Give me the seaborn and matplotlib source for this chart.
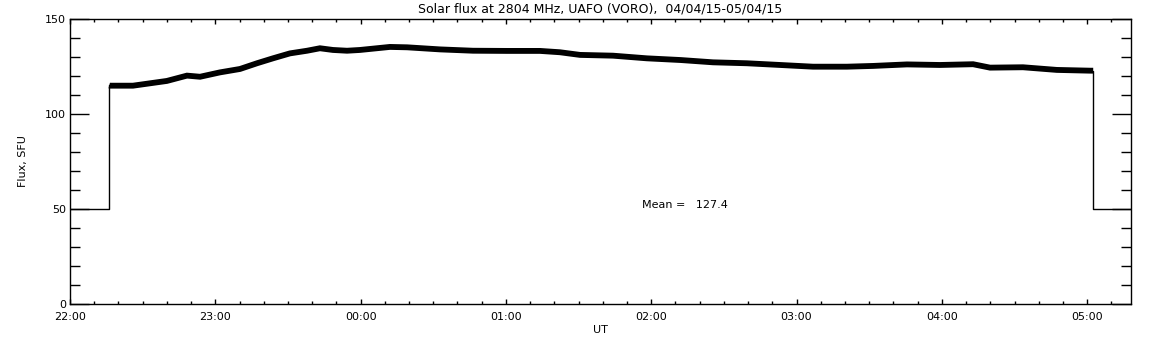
import matplotlib
matplotlib.use("Agg")
import matplotlib.pyplot as plt
import seaborn as sns
import pandas as pd
from matplotlib.ticker import MultipleLocator

# minutes since 22:00 UT
curve_min = [16.2, 16.5, 26, 40, 48.3, 53.7, 61.9, 70.2, 77.2, 83.8, 90.8, 97.9, 103.2,
             108.6, 114.4, 119.7, 132.1, 139.2, 152.8, 166.4, 180.4, 194.1, 202.3,
             210.6, 224.2, 238.2, 252.2, 265.5, 279.5, 293.2, 306.8, 320.8, 331.6,
             345.6, 359.2, 372.9, 379.9, 393.5, 407.5, 421.2, 422.5]
curve_flux = [115.0, 114.9, 114.9, 117.4, 120.2, 119.6, 121.9, 123.7, 126.7, 129.3, 131.9,
              133.3, 134.6, 133.7, 133.3, 133.7, 135.3, 135.1, 134.0, 133.3, 133.2,
              133.2, 132.5, 131.1, 130.7, 129.3, 128.4, 127.2, 126.7, 125.8, 124.9,
              124.9, 125.3, 126.1, 125.8, 126.2, 124.4, 124.6, 123.2, 122.8, 122.8]
base_start_min = [0, 16.2, 16.2]
base_start_flux = [50, 50, 115.0]
base_end_min = [422.5, 422.5, 438.1]
base_end_flux = [122.8, 50, 50]
tick_labels = ["22:00", "23:00", "00:00", "01:00", "02:00", "03:00", "04:00", "05:00"]
mean_value = 127.4

sns.set_style("ticks")
plt.rcParams['font.family'] = ['DejaVu Sans']
plt.rcParams.update({"text.color": "black", "axes.labelcolor": "black",
                     "xtick.color": "black", "ytick.color": "black",
                     "axes.edgecolor": "black"})

fig = plt.figure(figsize=(11.52, 3.45), dpi=100)
ax = fig.add_axes([70/1152, 41/345, (1131-70)/1152, (304-19)/345])

df_c = pd.DataFrame({"t": curve_min, "f": curve_flux})
df_s = pd.DataFrame({"t": base_start_min, "f": base_start_flux})
df_e = pd.DataFrame({"t": base_end_min, "f": base_end_flux})
sns.lineplot(data=df_c, x="t", y="f", ax=ax, color="black", linewidth=4.2,
             sort=False, estimator=None, solid_capstyle="butt", solid_joinstyle="miter")
sns.lineplot(data=df_s, x="t", y="f", ax=ax, color="black", linewidth=1.0,
             sort=False, estimator=None)
sns.lineplot(data=df_e, x="t", y="f", ax=ax, color="black", linewidth=1.0,
             sort=False, estimator=None)

ax.set_xlim(0, 438.1)
ax.set_ylim(0, 150)
ax.set_xticks([60 * i for i in range(len(tick_labels))])
ax.set_xticklabels(tick_labels)
ax.xaxis.set_minor_locator(MultipleLocator(10))
ax.set_yticks([0, 50, 100, 150])
ax.yaxis.set_minor_locator(MultipleLocator(10))

for s in ax.spines.values():
    s.set_linewidth(1.0)
    s.set_color("black")

ax.tick_params(axis="y", which="major", direction="in", length=13.7, width=1,
               left=True, right=True, labelsize=8, pad=3)
ax.tick_params(axis="y", which="minor", direction="in", length=7.2, width=1,
               left=True, right=True)
ax.tick_params(axis="x", which="major", direction="in", length=3.8, width=1,
               top=True, bottom=True, labelsize=8, pad=6)
ax.tick_params(axis="x", which="minor", direction="in", length=2.2, width=1,
               top=True, bottom=True)

ax.set_xlabel("UT", fontsize=8, labelpad=2)
ax.set_ylabel("Flux, SFU", fontsize=8, labelpad=12)
ax.set_title("Solar flux at 2804 MHz, UAFO (VORO),  04/04/15-05/04/15", fontsize=9, pad=5)
ax.text(642/1152, (345-205)/345, f"Mean =   {mean_value}", transform=fig.transFigure,
        fontsize=8, ha="left", va="center")

fig.savefig("out.png", dpi=100, facecolor="white")
